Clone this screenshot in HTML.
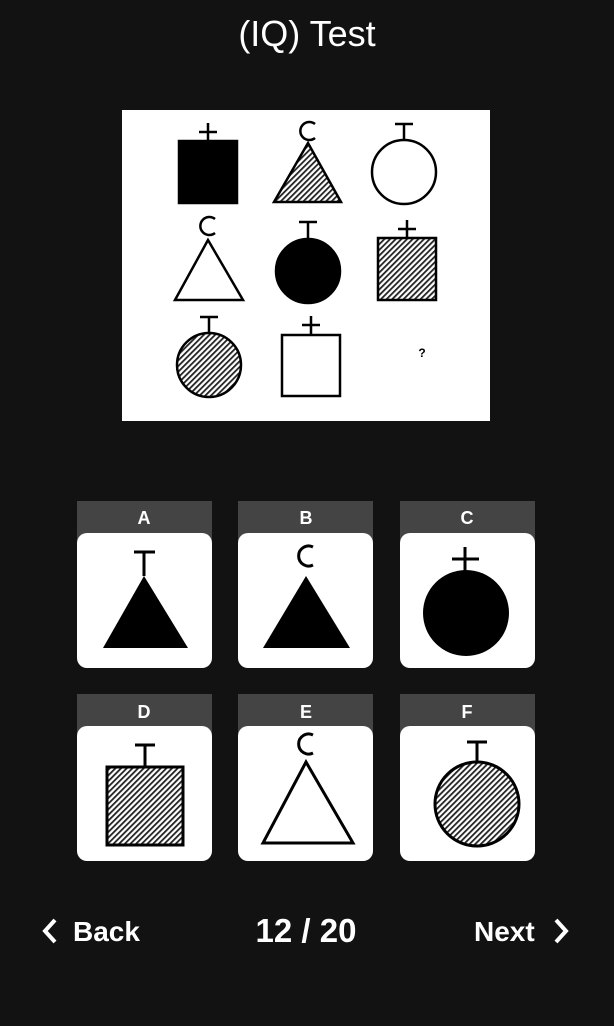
<!DOCTYPE html>
<html><head><meta charset="utf-8"><style>
body{margin:0;width:614px;height:1026px;background:#121212;overflow:hidden;font-family:"Liberation Sans",sans-serif;color:#fff}
svg{position:absolute;left:0;top:0}
</style></head><body>
<svg width="614" height="1026" viewBox="0 0 614 1026">
<defs>
<pattern id="h" width="4" height="4" patternUnits="userSpaceOnUse" patternTransform="rotate(45)"><rect width="4" height="4" fill="#fff"/><rect width="1.8" height="4" fill="#222"/></pattern>
</defs>
<text x="307" y="46" font-size="36" fill="#fff" text-anchor="middle">(IQ) Test</text>
<g stroke="#000" stroke-width="2.5" fill="none">
<rect x="122" y="110" width="368" height="311" fill="#fff" stroke="none"/>
<rect x="179" y="141" width="58" height="62" fill="#000"/>
<path d="M208 123V141M199 132H217"/>
<path d="M308 143L274 202H341Z" fill="url(#h)"/>
<path d="M315 124A9 9 0 1 0 315 138"/>
<circle cx="404" cy="172" r="32" fill="#fff"/>
<path d="M404 124V140M395 124H413"/>
<path d="M208 240L175 300H243Z" fill="#fff"/>
<path d="M215 219A9 9 0 1 0 215 233"/>
<circle cx="308" cy="271" r="32" fill="#000"/>
<path d="M308 222V239M299 222H317"/>
<rect x="378" y="238" width="58" height="62" fill="url(#h)"/>
<path d="M407 220V238M398 229H416"/>
<circle cx="209" cy="365" r="32" fill="url(#h)"/>
<path d="M209 317V333M200 317H218"/>
<rect x="282" y="335" width="58" height="61" fill="#fff"/>
<path d="M311 316V335M302 325H320"/>
<text x="422" y="357" font-size="12" font-weight="bold" fill="#000" stroke="none" text-anchor="middle">?</text>
</g>
<g>
<rect x="77" y="501" width="135" height="40" fill="#444"/><rect x="77" y="533" width="135" height="135" rx="10" fill="#fff"/>
<text x="144" y="524" font-size="18" font-weight="bold" fill="#fff" text-anchor="middle">A</text>
<path d="M144 576L103 648H188Z" fill="#000"/><path d="M144 552V576M134 552H155" stroke="#000" stroke-width="3"/>
</g>
<g>
<rect x="238" y="501" width="135" height="40" fill="#444"/><rect x="238" y="533" width="135" height="135" rx="10" fill="#fff"/>
<text x="306" y="524" font-size="18" font-weight="bold" fill="#fff" text-anchor="middle">B</text>
<path d="M306 576L263 648H350Z" fill="#000"/><path d="M313 547A10 10 0 1 0 313 565" stroke="#000" stroke-width="3" fill="none"/>
</g>
<g>
<rect x="400" y="501" width="135" height="40" fill="#444"/><rect x="400" y="533" width="135" height="135" rx="10" fill="#fff"/>
<text x="467" y="524" font-size="18" font-weight="bold" fill="#fff" text-anchor="middle">C</text>
<circle cx="466" cy="613" r="43" fill="#000"/><path d="M465 547V571M452 559H479" stroke="#000" stroke-width="3"/>
</g>
<g>
<rect x="77" y="694" width="135" height="40" fill="#444"/><rect x="77" y="726" width="135" height="135" rx="10" fill="#fff"/>
<text x="144" y="718" font-size="18" font-weight="bold" fill="#fff" text-anchor="middle">D</text>
<rect x="107" y="767" width="76" height="78" fill="url(#h)" stroke="#000" stroke-width="3"/><path d="M145 745V767M135 745H155" stroke="#000" stroke-width="3"/>
</g>
<g>
<rect x="238" y="694" width="135" height="40" fill="#444"/><rect x="238" y="726" width="135" height="135" rx="10" fill="#fff"/>
<text x="306" y="718" font-size="18" font-weight="bold" fill="#fff" text-anchor="middle">E</text>
<path d="M306 762L263 843H353Z" fill="#fff" stroke="#000" stroke-width="3"/><path d="M313 735A10 10 0 1 0 313 753" stroke="#000" stroke-width="3" fill="none"/>
</g>
<g>
<rect x="400" y="694" width="135" height="40" fill="#444"/><rect x="400" y="726" width="135" height="135" rx="10" fill="#fff"/>
<text x="467" y="718" font-size="18" font-weight="bold" fill="#fff" text-anchor="middle">F</text>
<circle cx="477" cy="804" r="42" fill="url(#h)" stroke="#000" stroke-width="3"/><path d="M477 742V762M467 742H487" stroke="#000" stroke-width="3"/>
</g>
<g>
<path d="M55 920L45 931L55 942" stroke="#fff" stroke-width="4" fill="none"/>
<text x="73" y="941" font-size="28" font-weight="bold" fill="#fff">Back</text>
</g>
<text x="306" y="942" font-size="33" font-weight="bold" fill="#fff" text-anchor="middle">12 / 20</text>
<g>
<text x="474" y="941" font-size="28" font-weight="bold" fill="#fff">Next</text>
<path d="M556 920L566 931L556 942" stroke="#fff" stroke-width="4" fill="none"/>
</g>
</svg>
</body></html>
